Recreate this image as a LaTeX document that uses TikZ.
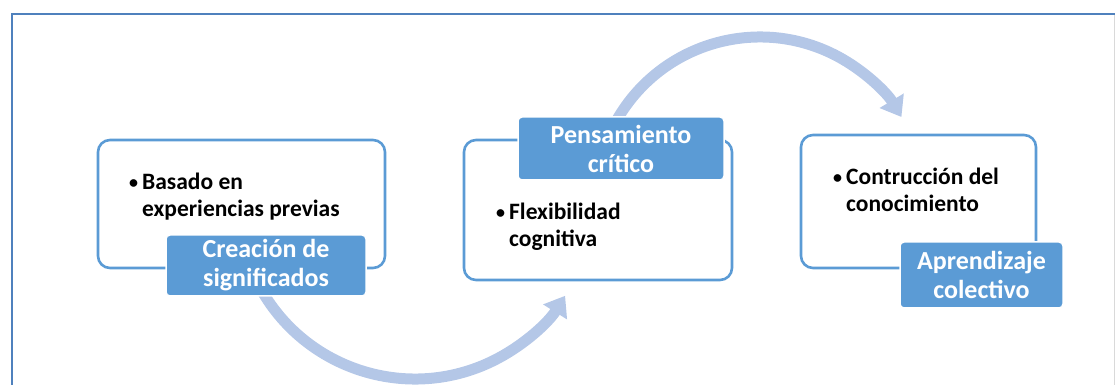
\documentclass[tikz,border=0pt]{standalone}
\usepackage{fontspec}
\setmainfont{Carlito}
\usetikzlibrary{arrows.meta}
\definecolor{boxblue}{HTML}{5B9BD5}
\definecolor{arrowblue}{HTML}{B4C7E7}
\definecolor{framecol}{HTML}{4F81BD}
\definecolor{framegrey}{HTML}{D9D9D9}
\tikzset{
  outline/.style={draw=boxblue, line width=2.6pt, rounded corners=12pt, fill=white, inner sep=0pt},
  lab/.style={fill=boxblue, draw=white, line width=1.5pt, rounded corners=4pt, text=white, inner sep=0pt,
    font=\bfseries\fontsize{26}{29}\selectfont, align=center},
  body/.style={font=\bfseries\fontsize{23.5}{26.5}\selectfont, anchor=base west, inner sep=0pt},
  flow/.style={draw=arrowblue, line width=11pt, -{Triangle[width=27pt,length=19pt]}},
}
\newcommand{\bul}{\makebox[13pt][l]{\raisebox{1.5pt}{\fontsize{18}{18}\selectfont •}}}
\begin{document}
\begin{tikzpicture}[x=1pt,y=1pt]
  \useasboundingbox (0,0) rectangle (1115,385);
  % frame
  \draw[framegrey, line width=1pt] (1114,371) -- (1114,0);
  \draw[framecol, line width=1.6pt] (12,0) -- (12,371) -- (1115,371);
  % arcs (connectors)
  \coordinate (c1) at (415,183);
  \coordinate (c2) at (760,183);
  \path (c1) ++(208:177) coordinate (a1s);
  \path (c2) ++(150:165) coordinate (a2s);
  \draw[flow] (a1s) arc[start angle=208, end angle=328, radius=177];
  \draw[flow] (a2s) arc[start angle=150, end angle=31, radius=165];
  % outline boxes
  \node[outline, minimum width=287pt, minimum height=128pt] (b1) at (241.5,181) {};
  \node[outline, minimum width=268pt, minimum height=140pt] (b2) at (598,175) {};
  \node[outline, minimum width=235pt, minimum height=133pt] (b3) at (918.5,183.5) {};
  % body texts
  \node[body] (t1) at (129,195) {\bul\begin{tabular}[t]{@{}l@{}}Basado en\\experiencias previas\end{tabular}};
  \node[body] (t2) at (496,165) {\bul\begin{tabular}[t]{@{}l@{}}Flexibilidad\\cognitiva\end{tabular}};
  \node[body] (t3) at (833,200) {\bul\begin{tabular}[t]{@{}l@{}}Contrucción del\\conocimiento\end{tabular}};
  % labels
  \node[lab, minimum width=200pt, minimum height=61pt] (l1) at (266,119.5) {Creación de\\significados};
  \node[lab, minimum width=206pt, minimum height=63pt] (l2) at (621,236.5) {Pensamiento\\crítico};
  \node[lab, minimum width=163pt, minimum height=66pt] (l3) at (981.5,110) {Aprendizaje\\colectivo};
\end{tikzpicture}
\end{document}
